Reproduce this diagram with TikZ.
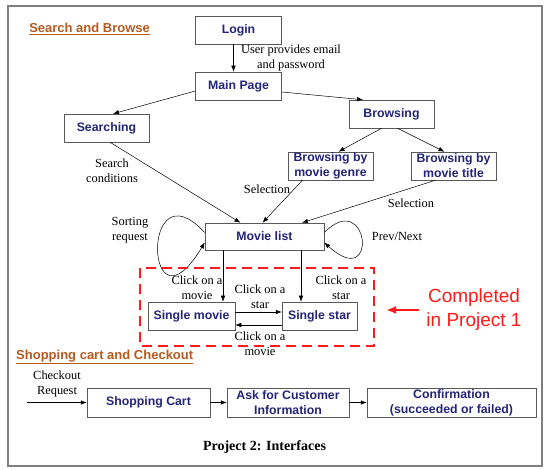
\documentclass[tikz,border=0pt]{standalone}
\usepackage{fontspec}
\setmainfont{Liberation Serif}
\setsansfont{Liberation Sans}
\usetikzlibrary{arrows.meta}
\definecolor{boxtext}{HTML}{24247A}
\definecolor{headbrown}{HTML}{B65A1E}
\definecolor{donered}{HTML}{FF1A1A}

\begin{document}
\begin{tikzpicture}[x=1pt, y=-1pt, line width=0.5pt,
    >={Latex[length=6pt,width=4.5pt]},
    page box/.style={draw=black!65, fill=white, inner sep=0pt, align=center,
                     text=boxtext, font=\sffamily\bfseries\fontsize{12.3}{15}\selectfont,
                     minimum height=28pt},
    note/.style={align=center, font=\fontsize{12.4}{15}\selectfont},
    heading/.style={anchor=west, text=headbrown, inner sep=0pt,
                    font=\sffamily\bfseries\fontsize{13}{15}\selectfont}]
    \useasboundingbox (0,0) rectangle (558,470);
    \draw[black!50, line width=1.2pt] (8,6) rectangle (542,466);

    % headings
    \node[heading] (hsearch) at (29,29) {\underline{Search and Browse}};
    \node[heading] (hshop) at (16,357) {\underline{Shopping cart and Checkout}};

    % search and browse pages
    \node[page box, minimum width=86pt] (login) at (238.5,30) {Login};
    \node[page box, minimum width=86pt] (main) at (238.5,86) {Main Page};
    \node[page box, minimum width=85pt] (search) at (106.5,128) {Searching};
    \node[page box, minimum width=85pt] (browse) at (391.5,114) {Browsing};
    \node[page box, minimum width=85pt] (genre) at (330.5,166) {Browsing by\\movie genre};
    \node[page box, minimum width=85pt] (title) at (453.5,166) {Browsing by\\movie title};
    \node[page box, minimum width=119pt, minimum height=27pt] (mlist) at (264.5,236.5) {Movie list};
    \node[page box, minimum width=87pt] (smovie) at (191.5,316) {Single movie};
    \node[page box, minimum width=75pt] (sstar) at (319.5,316) {Single star};

    \path[->]
        ([xshift=-5pt]login.south) edge ([xshift=-5pt]main.north)
        ([yshift=-5pt]main.west) edge ([xshift=6.5pt]search.north)
        ([yshift=-6pt]main.east) edge ([xshift=-28.5pt]browse.north)
        ([xshift=-10pt]browse.south) edge ([xshift=8pt]genre.north)
        ([xshift=6pt]browse.south) edge ([xshift=-9pt]title.north)
        ([xshift=3.5pt]search.south) edge ([xshift=-24pt]mlist.north)
        ([xshift=-28pt]genre.south) edge ([xshift=-2pt]mlist.north)
        ([xshift=-18pt]title.south) edge ([xshift=37.5pt]mlist.north)
        ([yshift=4pt]smovie.east) edge ([yshift=4pt]sstar.west)
        ([yshift=-9pt]sstar.west) edge ([yshift=-9pt]smovie.west -| smovie.east);

    % loops on the movie list
    \draw[->] ([yshift=4pt]mlist.west) .. controls +(-65,-70) and +(-60,100) .. ([yshift=-6pt]mlist.west);
    \draw[->] ([yshift=4pt]mlist.east) .. controls +(45,-45) and +(55,50) .. ([yshift=-6pt]mlist.east);

    % down to the single pages
    \coordinate (toMovie) at ([xshift=-41.5pt]mlist.south);
    \coordinate (toStar) at ([xshift=36.5pt]mlist.south);
    \draw[->] (toMovie) -- (toMovie |- smovie.north);
    \draw[->] (toStar) -- (toStar |- sstar.north);

    % labels
    \node[note] (lblLogin) at (291,58) {User provides email\\and password};
    \node[note] (lblSearch) at (112,170.5) {Search\\conditions};
    \node[note] (lblGenre) at (267,189) {Selection};
    \node[note] (lblTitle) at (411,203) {Selection};
    \node[note] (lblSort) at (130,230.5) {Sorting\\request};
    \node[note] (lblPrev) at (397,236) {Prev/Next};
    \node[note] (lblMovie) at (197,287.5) {Click on a\\movie};
    \node[note] (lblStar) at (341,287.5) {Click on a\\star};
    \node[note] (lblToStar) at (260,296.5) {Click on a\\star};
    \node[note] (lblToMovie) at (260,344) {Click on a\\movie};

    % project 1 part
    \draw[donered, line width=2.6pt, dash pattern=on 10pt off 6pt] (140,268) rectangle (374,346);
    \node[text=donered, align=center, font=\sffamily\fontsize{19}{24}\selectfont] (done) at (474,310) {Completed\\in Project 1};
    \coordinate (doneTip) at (386,310);
    \draw[-{Latex[length=10pt,width=8pt]}, donered, line width=2pt] (done.west) ++(-4,0) -- (doneTip);

    % shopping cart and checkout
    \node[page box, minimum width=123pt, minimum height=29pt] (cart) at (148.5,402.5) {Shopping Cart};
    \node[page box, minimum width=122pt, minimum height=29pt] (ask) at (288,402.5) {Ask for Customer\\Information};
    \node[page box, minimum width=169pt, minimum height=29pt] (confirm) at (451.5,402.5) {Confirmation\\(succeeded or failed)};
    \coordinate (checkout) at (27,402.5);
    \node[note] (lblCheckout) at (57,384.5) {Checkout\\Request};
    \path[->]
        (checkout) edge (cart)
        (cart) edge (ask)
        (ask) edge (confirm);

    \node[font=\bfseries\fontsize{14}{16}\selectfont] (caption) at (264.5,447) {Project 2: Interfaces};
\end{tikzpicture}
\end{document}
